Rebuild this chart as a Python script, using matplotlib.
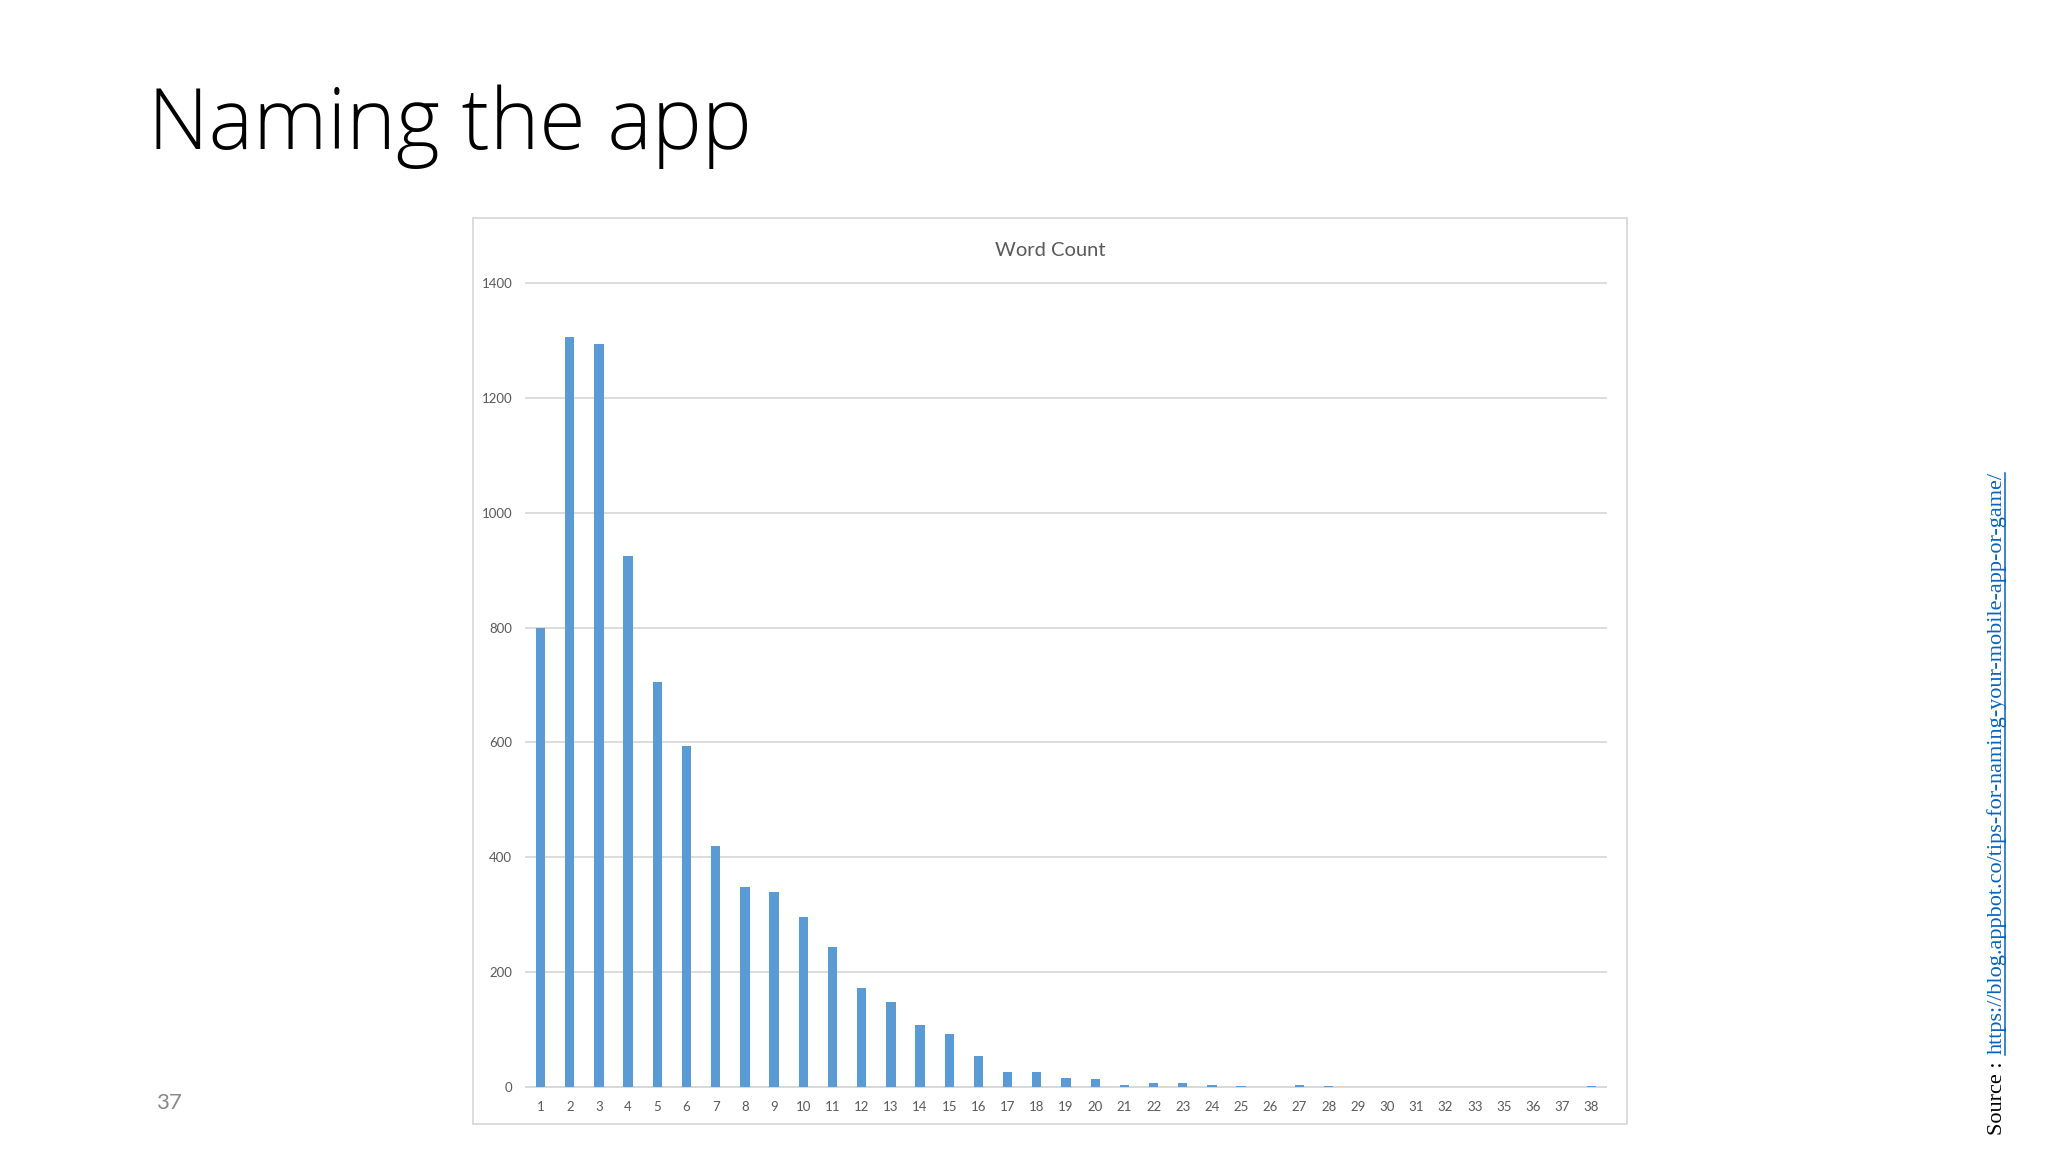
import matplotlib
matplotlib.use('Agg')
import matplotlib.pyplot as plt
from matplotlib.patches import Rectangle
from matplotlib.lines import Line2D

# ---- data ----
categories = [str(i) for i in range(1, 34)] + ['35', '36', '37', '38']
counts = [800, 1305, 1293, 925, 705, 593, 420, 348, 339, 297,
          244, 173, 148, 108, 93, 54, 26, 26, 16, 14,
          4, 7, 7, 4, 3, 0, 4, 3, 0, 0,
          1, 0, 0, 0, 0, 1, 3]
yticks = [0, 200, 400, 600, 800, 1000, 1200, 1400]
slide_title = 'Naming the app'
chart_title = 'Word Count'
page_number = '37'
source_label = 'Source :'
source_url = 'https://blog.appbot.co/tips-for-naming-your-mobile-app-or-game/'

W, H = 2048, 1152
fig = plt.figure(figsize=(W / 100, H / 100), dpi=100)
fig.patch.set_facecolor('white')

# chart frame
frame = Rectangle((473 / W, 1 - 1124 / H), (1627 - 473) / W, (1124 - 218) / H,
                  transform=fig.transFigure, facecolor='white',
                  edgecolor='#D9D9D9', lw=1.3, zorder=-1)
fig.add_artist(frame)

ax = fig.add_axes([526 / W, 1 - 1087.3 / H, 1080 / W, (1087.3 - 282.7) / H])
ax.patch.set_alpha(0)
x = list(range(len(categories)))
ax.bar(x, counts, width=0.32, color='#5B9BD5', zorder=3)
ax.set_xlim(-0.5, len(categories) - 0.5)
ax.set_ylim(0, 1400)
ax.set_xticks(x)
ax.set_xticklabels(categories)
ax.set_yticks(yticks)
ax.set_yticklabels([str(v) for v in yticks])
ax.grid(axis='y', color='#D9D9D9', lw=1.3)
ax.set_axisbelow(True)
for gl in ax.yaxis.get_gridlines():
    gl.set_clip_on(False)
for s in ['top', 'left', 'right']:
    ax.spines[s].set_visible(False)
ax.spines['bottom'].set_color('#D9D9D9')
ax.spines['bottom'].set_linewidth(1.3)
ax.tick_params(axis='both', length=0, labelsize=9.5, labelcolor='#595959')
ax.tick_params(axis='x', pad=10)
ax.tick_params(axis='y', pad=10)
for lab in ax.get_xticklabels() + ax.get_yticklabels():
    lab.set_family('Lato')

fig.text(1050 / W, 1 - 250 / H, chart_title, ha='center', va='center',
         size=14.5, color='#595959', family='Lato')

fig.text(148 / W, 1 - 149 / H, slide_title, ha='left', va='baseline',
         size=60.5, family='Open Sans', weight='light', color='black')

fig.text(156 / W, 1 - 1109 / H, page_number, ha='left', va='baseline',
         size=16, family='Lato', color='#898989')

# vertical source text
t1 = fig.text(2002 / W, 1 - 1135 / H, source_label, rotation=90,
              rotation_mode='anchor', ha='left', va='baseline',
              family='Liberation Serif', size=16, color='black')
fig.canvas.draw()
renderer = fig.canvas.get_renderer()
bb1 = t1.get_window_extent(renderer)
y_url = bb1.y1 + 7
t2 = fig.text(2002 / W, y_url / H, source_url, rotation=90,
              rotation_mode='anchor', ha='left', va='baseline',
              family='Liberation Serif', size=16, color='#0563C1')
fig.canvas.draw()
bb2 = t2.get_window_extent(renderer)
fig.add_artist(Line2D([2004.5 / W, 2004.5 / W], [y_url / H, bb2.y1 / H],
                      transform=fig.transFigure, color='#0563C1', lw=1.1))

fig.savefig('out.png', dpi=100)
